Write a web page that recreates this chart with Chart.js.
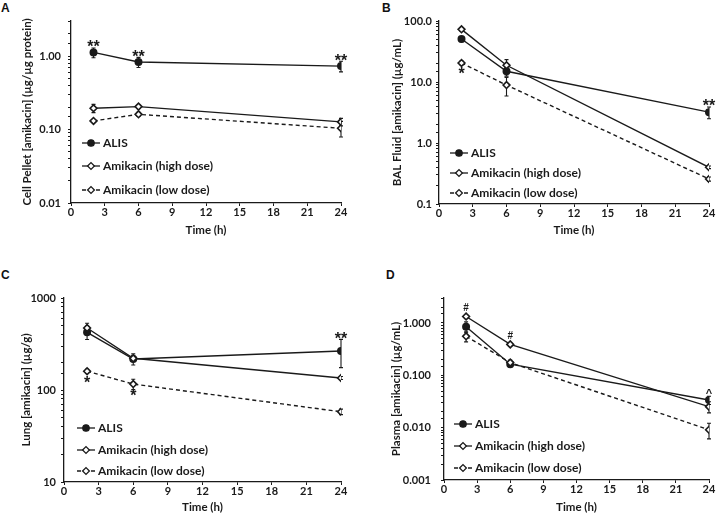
<!DOCTYPE html>
<html>
<head>
<meta charset="utf-8">
<script src="https://cdn.jsdelivr.net/npm/chart.js@4.4.1/dist/chart.umd.min.js"></script>
<style>
  body { margin: 0; background: #fff; width: 720px; height: 518px; position: relative; overflow: hidden; }
  .panel { position: absolute; width: 360px; height: 259px; }
  .letter { position: absolute; font: bold 12px "Liberation Sans", Arial, sans-serif; color: #111; }
</style>
</head>
<body>
<div class="letter" style="left:1px;top:1px">A</div>
<div class="letter" style="left:382px;top:1px">B</div>
<div class="letter" style="left:1px;top:268px">C</div>
<div class="letter" style="left:386px;top:268px">D</div>
<canvas id="cA" class="panel" width="360" height="259" style="left:0;top:0"></canvas>
<canvas id="cB" class="panel" width="360" height="259" style="left:360px;top:0"></canvas>
<canvas id="cC" class="panel" width="360" height="259" style="left:0;top:259px"></canvas>
<canvas id="cD" class="panel" width="360" height="259" style="left:360px;top:259px"></canvas>
<script>
// sampling times (h)
const hours = [2, 6, 24];
const seriesNames = ['ALIS', 'Amikacin (high dose)', 'Amikacin (low dose)'];

// A - cell pellet (µg/µg protein)
const pelletAlis = [1.12, 0.83, 0.73];
const pelletAlisErr = [0.17, 0.13, 0.12];
const pelletHigh = [0.195, 0.205, 0.127];
const pelletHighErr = [0.025, 0.01, 0.015];
const pelletLow = [0.131, 0.161, 0.104];
const pelletLowErr = [0.005, 0.01, 0.025];
const pelletMarks = [[0, 0, '**', 'up'], [0, 1, '**', 'up'], [0, 2, '**', 'up']];

// B - BAL fluid (µg/mL)
const balAlis = [50.7, 15.0, 3.2];
const balAlisErr = [5, 2.5, 0.7];
const balHigh = [73, 18.8, 0.40];
const balHighErr = [5, 4.5, 0.02];
const balLow = [20.5, 8.9, 0.257];
const balLowErr = [1.5, 3, 0.02];
const balMarks = [[2, 0, '*', 'down'], [0, 2, '**', 'up']];

// C - lung (µg/g)
const lungAlis = [424, 217, 265];
const lungAlisErr = [70, 30, 90];
const lungHigh = [472, 221, 135];
const lungHighErr = [60, 15, 5];
const lungLow = [160, 116, 58];
const lungLowErr = [8, 15, 4];
const lungMarks = [[2, 0, '*', 'down'], [2, 1, '*', 'down'], [0, 2, '**', 'up']];

// D - plasma (µg/mL)
const plasmaAlis = [0.85, 0.163, 0.0337];
const plasmaAlisErr = [0.2, 0.02, 0.006];
const plasmaHigh = [1.33, 0.39, 0.0252];
const plasmaHighErr = [0.1, 0.03, 0.006];
const plasmaLow = [0.556, 0.175, 0.0091];
const plasmaLowErr = [0.12, 0.02, 0.003];
const plasmaMarks = [[1, 0, '#', 'up'], [1, 1, '#', 'up'], [0, 2, '^', 'up']];

const INK = '#1a1a1a';
const FONT = 'Lato, "Open Sans", sans-serif';
const MARKFONT = '"Liberation Sans", Arial, sans-serif';

const seriesStyle = [
  { pointStyle: 'circle', pointBackgroundColor: INK, borderDash: [], radius: 3.2 },
  { pointStyle: 'rectRot', pointBackgroundColor: '#fff', borderDash: [], radius: 3.4 },
  { pointStyle: 'rectRot', pointBackgroundColor: '#fff', borderDash: [4, 3], radius: 3.4 }
];

// vertical error bars under the markers
const errorBars = {
  id: 'errorBars',
  beforeDatasetsDraw(chart) {
    const { ctx, scales: { x, y } } = chart;
    ctx.save();
    ctx.strokeStyle = INK;
    ctx.lineWidth = 1.1;
    chart.data.datasets.forEach(ds => {
      ds.data.forEach((p, i) => {
        const e = ds.err[i];
        const px = x.getPixelForValue(p.x);
        const top = y.getPixelForValue(p.y + e);
        const bot = y.getPixelForValue(p.y - e);
        ctx.beginPath();
        ctx.moveTo(px, top); ctx.lineTo(px, bot);
        ctx.moveTo(px - 2, top); ctx.lineTo(px + 2, top);
        ctx.moveTo(px - 2, bot); ctx.lineTo(px + 2, bot);
        ctx.stroke();
      });
    });
    ctx.restore();
  }
};

// significance marks (*, **, #, ^)
const sigMarks = {
  id: 'sigMarks',
  afterDatasetsDraw(chart, args, opts) {
    const { ctx, scales: { x, y } } = chart;
    ctx.save();
    ctx.fillStyle = INK;
    ctx.textAlign = 'center';
    ctx.textBaseline = 'alphabetic';
    (opts.marks || []).forEach(([s, i, t, where]) => {
      const ds = chart.data.datasets[s];
      const p = ds.data[i];
      const px = x.getPixelForValue(p.x);
      const py = y.getPixelForValue(p.y);
      const errTop = Math.min(y.getPixelForValue(p.y + ds.err[i]), py - 4);
      if (t.indexOf('*') >= 0) {
        ctx.font = 'bold 16px ' + MARKFONT;
        if (where === 'up') ctx.fillText(t, px, errTop + 4.5);
        else ctx.fillText(t, px, py + 16.5);
      } else if (t === '#') {
        ctx.font = 'bold 10px ' + MARKFONT;
        ctx.fillText(t, px, errTop - 1.5);
      } else {
        ctx.font = 'bold 11px ' + MARKFONT;
        ctx.fillText(t, px, errTop + 1);
      }
    });
    ctx.restore();
  }
};

// legend drawn inside the plot area
const innerLegend = {
  id: 'innerLegend',
  afterDraw(chart, args, opts) {
    const { ctx, chartArea } = chart;
    ctx.save();
    ctx.font = 'bold 12px ' + FONT;
    ctx.textBaseline = 'middle';
    seriesNames.forEach((name, k) => {
      const x0 = chartArea.left + opts.dx;
      const yy = chartArea.bottom - opts.rows[k];
      const st = seriesStyle[k];
      ctx.strokeStyle = INK;
      ctx.lineWidth = 1.3;
      ctx.setLineDash(st.borderDash);
      ctx.beginPath();
      ctx.moveTo(x0, yy); ctx.lineTo(x0 + 18, yy);
      ctx.stroke();
      ctx.setLineDash([]);
      ctx.fillStyle = st.pointBackgroundColor;
      Chart.helpers.drawPoint(ctx, { pointStyle: st.pointStyle, radius: st.radius, borderWidth: 1.6, rotation: 0 }, x0 + 9, yy);
      ctx.fillStyle = INK;
      ctx.fillText(name, x0 + 21, yy + 0.5);
    });
    ctx.restore();
  }
};

function isDecade(v) {
  const l = Math.log10(v);
  return Math.abs(l - Math.round(l)) < 1e-6;
}

function makePanel(id, p) {
  const values = [p.alis, p.high, p.low];
  const errs = [p.alisErr, p.highErr, p.lowErr];
  const tickFont = { family: FONT, size: 11, weight: 'bold' };
  const titleFont = { family: FONT, size: 11.5, weight: 'bold' };
  const datasets = values.map((vals, k) => ({
    label: seriesNames[k],
    data: hours.map((h, i) => ({ x: h, y: vals[i] })),
    err: errs[k],
    borderColor: INK,
    borderWidth: 1.4,
    borderDash: seriesStyle[k].borderDash,
    pointStyle: seriesStyle[k].pointStyle,
    pointBackgroundColor: seriesStyle[k].pointBackgroundColor,
    pointBorderColor: INK,
    pointBorderWidth: 1.6,
    pointRadius: seriesStyle[k].radius,
    tension: 0,
    order: 3 - k
  }));
  return new Chart(document.getElementById(id), {
    type: 'line',
    data: { datasets },
    plugins: [errorBars, sigMarks, innerLegend],
    options: {
      responsive: false,
      animation: false,
      layout: { padding: { left: 0, top: p.top, right: p.right, bottom: 0 } },
      plugins: {
        legend: { display: false },
        tooltip: { enabled: false },
        sigMarks: { marks: p.marks },
        innerLegend: { dx: p.legendDx, rows: p.legendRows }
      },
      scales: {
        x: {
          type: 'linear',
          min: 0, max: 24,
          ticks: { stepSize: 3, color: INK, font: tickFont, padding: 0 },
          grid: { drawOnChartArea: false, tickLength: 3, color: INK, lineWidth: 1 },
          border: { color: INK, width: 1.3 },
          title: { display: true, text: 'Time (h)', color: INK, font: titleFont, padding: { top: 0, bottom: p.xTitlePad } },
          afterFit: s => { s.height = p.xHeight; }
        },
        y: {
          type: 'logarithmic',
          min: p.min, max: p.max,
          ticks: {
            autoSkip: false,
            color: INK,
            font: tickFont,
            padding: p.tickPad,
            callback: v => isDecade(v) ? p.fmt(v) : ''
          },
          grid: { drawOnChartArea: false, tickLength: 3, color: INK, lineWidth: 1 },
          border: { color: INK, width: 1.3 },
          title: { display: true, text: p.title, color: INK, font: titleFont, padding: p.titlePad },
          afterFit: s => { s.width = p.yWidth; }
        }
      }
    }
  });
}

makePanel('cA', {
  alis: pelletAlis, alisErr: pelletAlisErr, high: pelletHigh, highErr: pelletHighErr, low: pelletLow, lowErr: pelletLowErr,
  marks: pelletMarks, min: 0.01, max: 3, fmt: v => v.toFixed(2),
  title: 'Cell Pellet [amikacin] (µg/µg protein)',
  top: 21, right: 19, xHeight: 56, xTitlePad: 22, yWidth: 71, tickPad: 7, titlePad: 20,
  legendDx: 11, legendRows: [60, 37, 13]
});
makePanel('cB', {
  alis: balAlis, alisErr: balAlisErr, high: balHigh, highErr: balHighErr, low: balLow, lowErr: balLowErr,
  marks: balMarks, min: 0.1, max: 100, fmt: v => v.toFixed(1),
  title: 'BAL Fluid [amikacin] (µg/mL)',
  top: 21, right: 11, xHeight: 55, xTitlePad: 22, yWidth: 79, tickPad: 4, titlePad: 30,
  legendDx: 11, legendRows: [51, 31, 11]
});
makePanel('cC', {
  alis: lungAlis, alisErr: lungAlisErr, high: lungHigh, highErr: lungHighErr, low: lungLow, lowErr: lungLowErr,
  marks: lungMarks, min: 10, max: 1000, fmt: v => String(Math.round(v)),
  title: 'Lung [amikacin] (µg/g)',
  top: 39, right: 19, xHeight: 36, xTitlePad: 4, yWidth: 64, tickPad: 5, titlePad: 19,
  legendDx: 13, legendRows: [54, 32, 11]
});
makePanel('cD', {
  alis: plasmaAlis, alisErr: plasmaAlisErr, high: plasmaHigh, highErr: plasmaHighErr, low: plasmaLow, lowErr: plasmaLowErr,
  marks: plasmaMarks, min: 0.001, max: 3, fmt: v => v.toFixed(3),
  title: 'Plasma [amikacin] (µg/mL)',
  top: 39, right: 11, xHeight: 38, xTitlePad: 4, yWidth: 84, tickPad: 10, titlePad: 29,
  legendDx: 10, legendRows: [56, 34, 12]
});
</script>
</body>
</html>
